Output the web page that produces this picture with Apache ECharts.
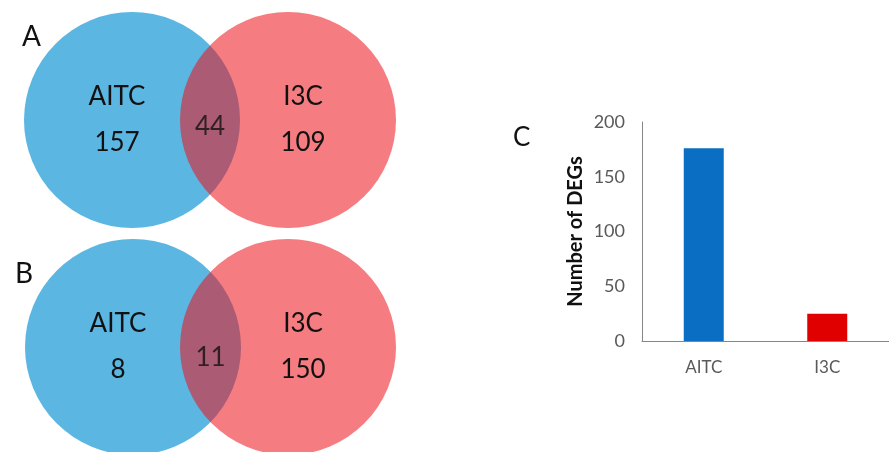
<!DOCTYPE html>
<html>
<head>
<meta charset="utf-8">
<script src="https://cdn.jsdelivr.net/npm/echarts@6/dist/echarts.min.js"></script>
<style>
  html, body { margin: 0; padding: 0; background: #fff; }
  #main { width: 889px; height: 452px; }
</style>
</head>
<body>
<div id="main"></div>
<script>
// venn sets and counts: [only first, both, only second]
var vennSets = ['AITC', 'I3C'];
var vennA = [157, 44, 109];
var vennB = [8, 11, 150];

// bar chart C
var barCategories = ['AITC', 'I3C'];
var barValues = [176, 25];
var barColors = ['#0a6fc2', '#e00000'];

var font = 'Lato, "Open Sans", sans-serif';

var chart = echarts.init(document.getElementById('main'));

function vennSeries(gridIdx, counts, offsets) {
  // circles: set index -> x position -1 / 1
  var circles = {
    type: 'scatter',
    xAxisIndex: gridIdx, yAxisIndex: gridIdx,
    symbolSize: 216,
    clip: false,
    silent: true,
    z: 2,
    itemStyle: { opacity: 1 },
    data: [
      { value: [-1, 0], itemStyle: { color: 'rgb(91,182,226)', opacity: 1 },
        label: { offset: [-15, offsets[0]], formatter: '{n|' + vennSets[0] + '}\n{v|' + counts[0] + '}' } },
      { value: [1, 0], itemStyle: { color: 'rgba(236,16,24,0.55)', opacity: 1 },
        label: { offset: [15, offsets[0]], formatter: '{n|' + vennSets[1] + '}\n{v|' + counts[2] + '}' } }
    ],
    label: {
      show: true,
      position: 'inside',
      color: '#111',
      fontFamily: font,
      rich: {
        n: { fontSize: 26, lineHeight: 46, fontFamily: font, color: '#111' },
        v: { fontSize: 26, lineHeight: 46, fontFamily: font, color: '#111' }
      }
    }
  };
  var both = {
    type: 'scatter',
    xAxisIndex: gridIdx, yAxisIndex: gridIdx,
    symbolSize: 0,
    silent: true,
    z: 3,
    data: [[0, 0]],
    label: {
      show: true,
      position: 'inside',
      offset: [0, offsets[1]],
      formatter: String(counts[1]),
      fontSize: 26,
      fontFamily: font,
      color: '#111'
    }
  };
  return [circles, both];
}

var hiddenAxis = { type: 'value', min: -1, max: 1, show: false };

var option = {
  backgroundColor: '#fff',
  animation: false,
  title: [
    { text: 'A', left: 17, top: 18, textStyle: { fontSize: 28, fontWeight: 'normal', color: '#111', fontFamily: font } },
    { text: 'B', left: 10, top: 255, textStyle: { fontSize: 28, fontWeight: 'normal', color: '#111', fontFamily: font } },
    { text: 'C', left: 508, top: 120, textStyle: { fontSize: 26, fontWeight: 'normal', color: '#111', fontFamily: font } }
  ],
  grid: [
    { left: 132, top: 20, width: 156, height: 200 },
    { left: 133, top: 247, width: 155, height: 200 },
    { left: 642, top: 122, width: 256, height: 219 }
  ],
  xAxis: [
    Object.assign({ gridIndex: 0 }, hiddenAxis),
    Object.assign({ gridIndex: 1 }, hiddenAxis),
    {
      gridIndex: 2,
      type: 'category',
      data: barCategories,
      axisTick: { show: false },
      axisLine: { lineStyle: { color: '#868686', width: 1 } },
      axisLabel: { color: '#595959', fontSize: 17, fontFamily: font, margin: 18 }
    }
  ],
  yAxis: [
    Object.assign({ gridIndex: 0 }, hiddenAxis),
    Object.assign({ gridIndex: 1 }, hiddenAxis),
    {
      gridIndex: 2,
      type: 'value',
      min: 0,
      max: 200,
      interval: 50,
      name: 'Number of DEGs',
      nameLocation: 'middle',
      nameRotate: 90,
      nameGap: 56,
      nameTextStyle: { fontSize: 20, fontWeight: 'bold', color: '#111', fontFamily: font },
      splitLine: { show: false },
      axisTick: { show: false },
      axisLine: { show: true, lineStyle: { color: '#868686', width: 1 } },
      axisLabel: { color: '#595959', fontSize: 18, fontFamily: font, margin: 17 }
    }
  ],
  series: vennSeries(0, vennA, [0, 7])
    .concat(vennSeries(1, vennB, [0, 11]))
    .concat([{
      type: 'bar',
      xAxisIndex: 2, yAxisIndex: 2,
      barWidth: 40,
      data: barValues.map(function (v, i) {
        return { value: v, itemStyle: { color: barColors[i] } };
      })
    }])
};

chart.setOption(option);
</script>
</body>
</html>
